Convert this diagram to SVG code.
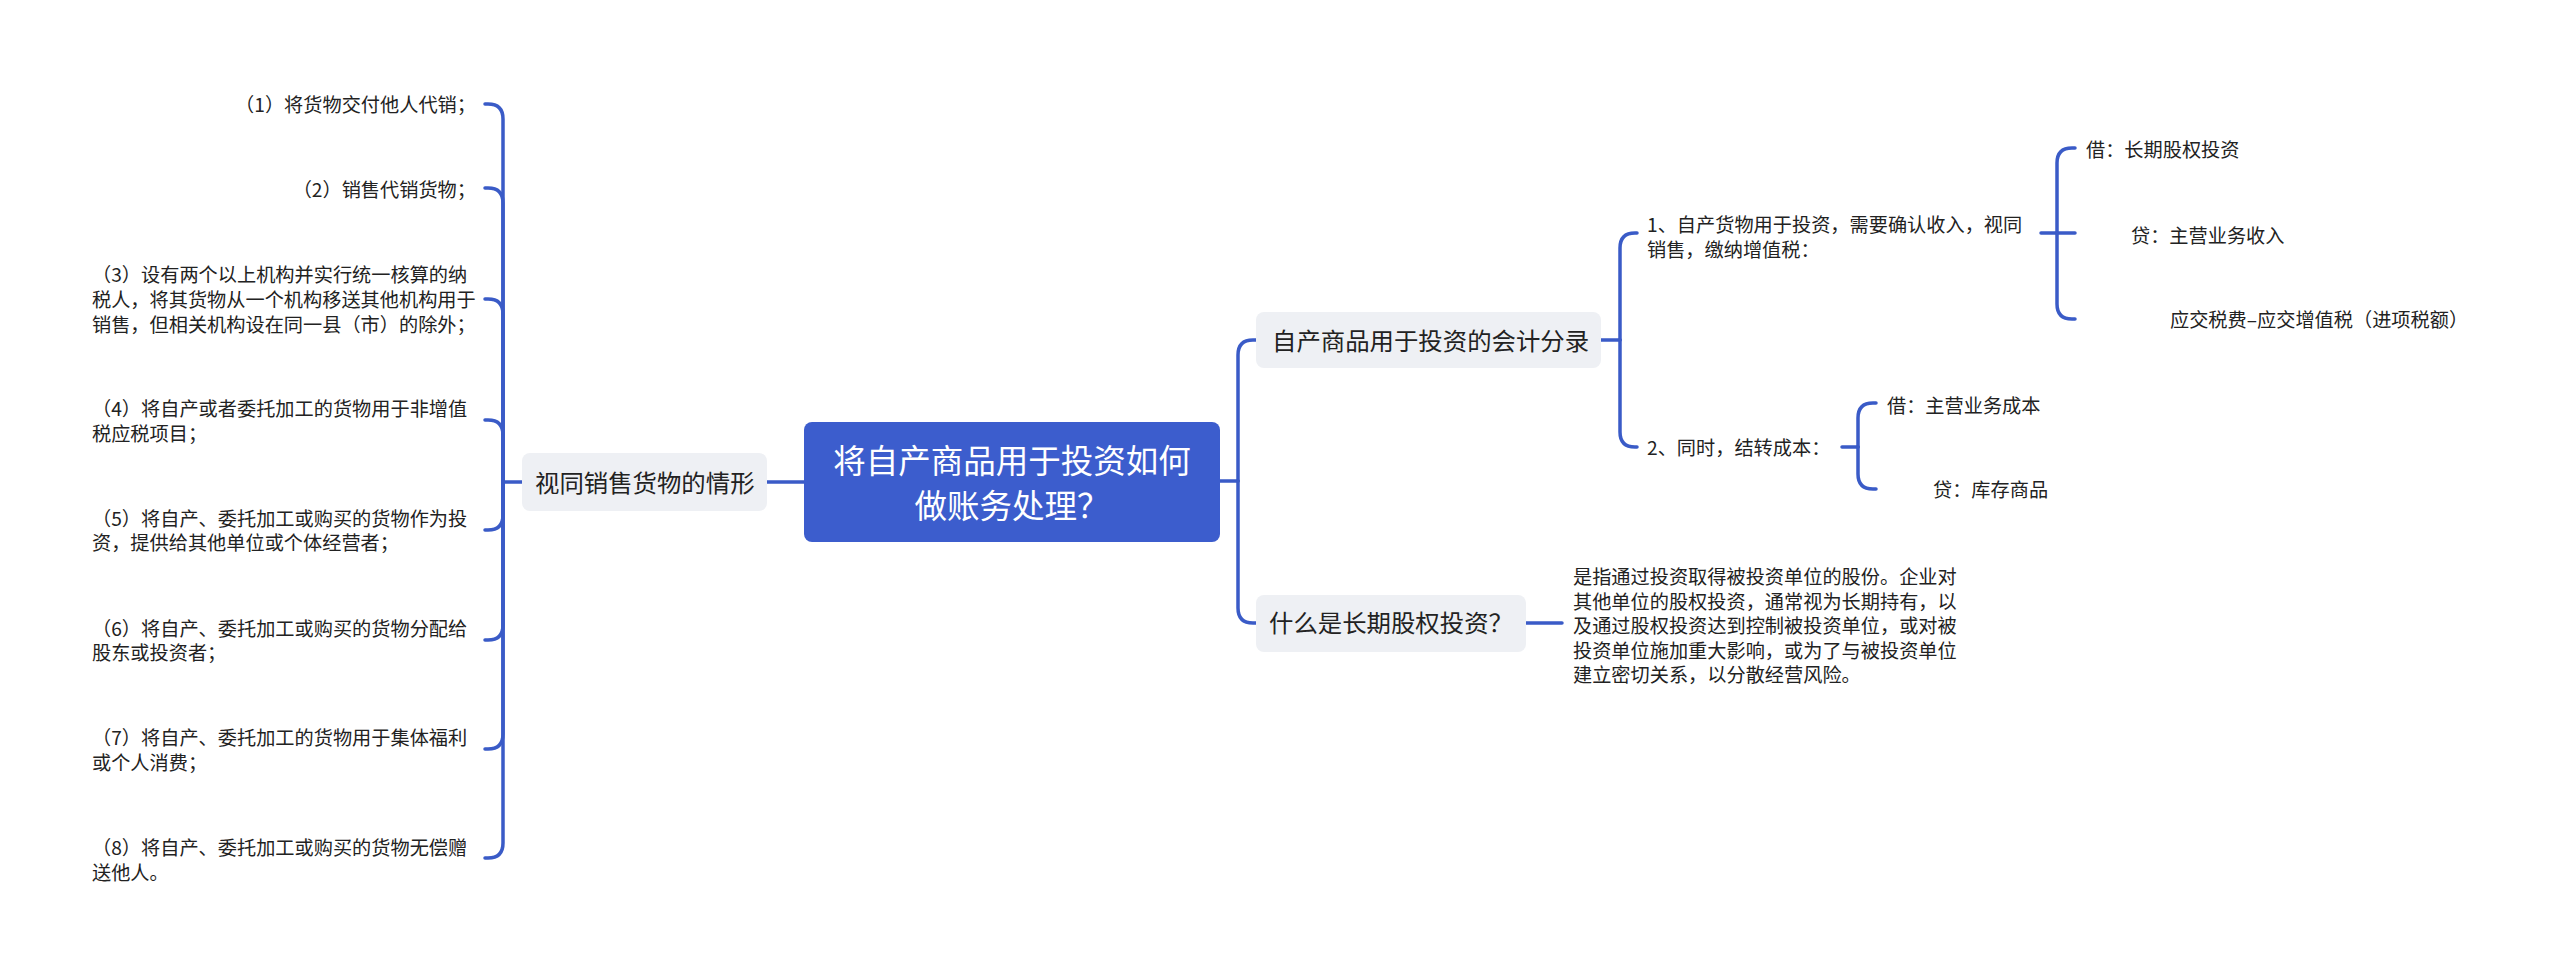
<svg xmlns="http://www.w3.org/2000/svg" width="2560" height="976" viewBox="0 0 2560 976">
<style>
.bg{fill:#ffffff}
.c{fill:none;stroke:#3a5bc7;stroke-width:3.5;stroke-linecap:round;stroke-linejoin:round}
.root{fill:#3c5dcd}
.n2{fill:#eef0f4}
text{font-family:"Noto Sans CJK SC","Noto Sans",sans-serif;fill:#222222}
.t1{font-size:32.5px;fill:#ffffff}
.t2{font-size:24.4px}
.t3{font-size:19.2px}
</style>
<rect class="bg" x="0" y="0" width="2560" height="976"/>
<g id="connectors">
  <path class="c" d="M804,482 H767"/>
  <path class="c" d="M522,482 H503"/>
  <path class="c" d="M503,482 V119 Q503,104 488,104 H485"/>
  <path class="c" d="M503,482 V203 Q503,188 488,188 H485"/>
  <path class="c" d="M503,482 V314 Q503,299 488,299 H485"/>
  <path class="c" d="M503,482 V435 Q503,420 488,420 H485"/>
  <path class="c" d="M503,482 V515 Q503,530 488,530 H485"/>
  <path class="c" d="M503,482 V625 Q503,640 488,640 H485"/>
  <path class="c" d="M503,482 V734 Q503,749 488,749 H485"/>
  <path class="c" d="M503,482 V843 Q503,858 488,858 H485"/>
  <path class="c" d="M1220,481 H1238"/>
  <path class="c" d="M1238,481 V355 Q1238,340 1253,340 H1256"/>
  <path class="c" d="M1238,481 V608 Q1238,623 1253,623 H1256"/>
  <path class="c" d="M1601,340 H1620"/>
  <path class="c" d="M1620,340 V248 Q1620,233 1635,233 H1637"/>
  <path class="c" d="M1620,340 V432 Q1620,447 1635,447 H1637"/>
  <path class="c" d="M2041,233 H2075"/>
  <path class="c" d="M2057,233 V163 Q2057,148 2072,148 H2075"/>
  <path class="c" d="M2057,233 V304 Q2057,319 2072,319 H2075"/>
  <path class="c" d="M1842,447 H1858"/>
  <path class="c" d="M1858,447 V418 Q1858,403 1873,403 H1876"/>
  <path class="c" d="M1858,447 V474 Q1858,489 1873,489 H1876"/>
  <path class="c" d="M1526,623 H1562"/>
</g>
<g id="root">
  <rect class="root" x="804" y="422" width="416" height="120" rx="8"/>
  <text class="t1" x="1012" y="473" text-anchor="middle">将自产商品用于投资如何</text>
  <text class="t1" x="1012" y="518" text-anchor="middle">做账务处理？</text>
</g>
<g id="node-left">
  <rect class="n2" x="522" y="453" width="245" height="58" rx="8"/>
  <text class="t2" x="535" y="492">视同销售货物的情形</text>
</g>
<g id="leaf-1"><text class="t3" x="476" y="112" text-anchor="end">（1）将货物交付他人代销；</text></g>
<g id="leaf-2"><text class="t3" x="476" y="197" text-anchor="end">（2）销售代销货物；</text></g>
<g id="leaf-3">
  <text class="t3" x="92" y="282">（3）设有两个以上机构并实行统一核算的纳</text>
  <text class="t3" x="92" y="307">税人，将其货物从一个机构移送其他机构用于</text>
  <text class="t3" x="92" y="332">销售，但相关机构设在同一县（市）的除外；</text>
</g>
<g id="leaf-4">
  <text class="t3" x="92" y="416">（4）将自产或者委托加工的货物用于非增值</text>
  <text class="t3" x="92" y="441">税应税项目；</text>
</g>
<g id="leaf-5">
  <text class="t3" x="92" y="526">（5）将自产、委托加工或购买的货物作为投</text>
  <text class="t3" x="92" y="550">资，提供给其他单位或个体经营者；</text>
</g>
<g id="leaf-6">
  <text class="t3" x="92" y="636">（6）将自产、委托加工或购买的货物分配给</text>
  <text class="t3" x="92" y="660">股东或投资者；</text>
</g>
<g id="leaf-7">
  <text class="t3" x="92" y="745">（7）将自产、委托加工的货物用于集体福利</text>
  <text class="t3" x="92" y="770">或个人消费；</text>
</g>
<g id="leaf-8">
  <text class="t3" x="92" y="855">（8）将自产、委托加工或购买的货物无偿赠</text>
  <text class="t3" x="92" y="880">送他人。</text>
</g>
<g id="node-accounting">
  <rect class="n2" x="1256" y="312" width="345" height="56" rx="8"/>
  <text class="t2" x="1272" y="350">自产商品用于投资的会计分录</text>
</g>
<g id="node-equity">
  <rect class="n2" x="1256" y="595" width="270" height="57" rx="8"/>
  <text class="t2" x="1269" y="632">什么是长期股权投资？</text>
</g>
<g id="sub-1">
  <text class="t3" x="1647" y="232">1、自产货物用于投资，需要确认收入，视同</text>
  <text class="t3" x="1647" y="257">销售，缴纳增值税：</text>
</g>
<g id="sub-2">
  <text class="t3" x="1647" y="455">2、同时，结转成本：</text>
</g>
<g id="entry-1"><text class="t3" x="2086" y="157">借：长期股权投资</text></g>
<g id="entry-2"><text class="t3" x="2131" y="243">贷：主营业务收入</text></g>
<g id="entry-3"><text class="t3" x="2170" y="327">应交税费–应交增值税（进项税额）</text></g>
<g id="entry-4"><text class="t3" x="1887" y="413">借：主营业务成本</text></g>
<g id="entry-5"><text class="t3" x="1933" y="497">贷：库存商品</text></g>
<g id="equity-desc">
  <text class="t3" x="1573" y="584">是指通过投资取得被投资单位的股份。企业对</text>
  <text class="t3" x="1573" y="609">其他单位的股权投资，通常视为长期持有，以</text>
  <text class="t3" x="1573" y="633">及通过股权投资达到控制被投资单位，或对被</text>
  <text class="t3" x="1573" y="658">投资单位施加重大影响，或为了与被投资单位</text>
  <text class="t3" x="1573" y="682">建立密切关系，以分散经营风险。</text>
</g>
</svg>
